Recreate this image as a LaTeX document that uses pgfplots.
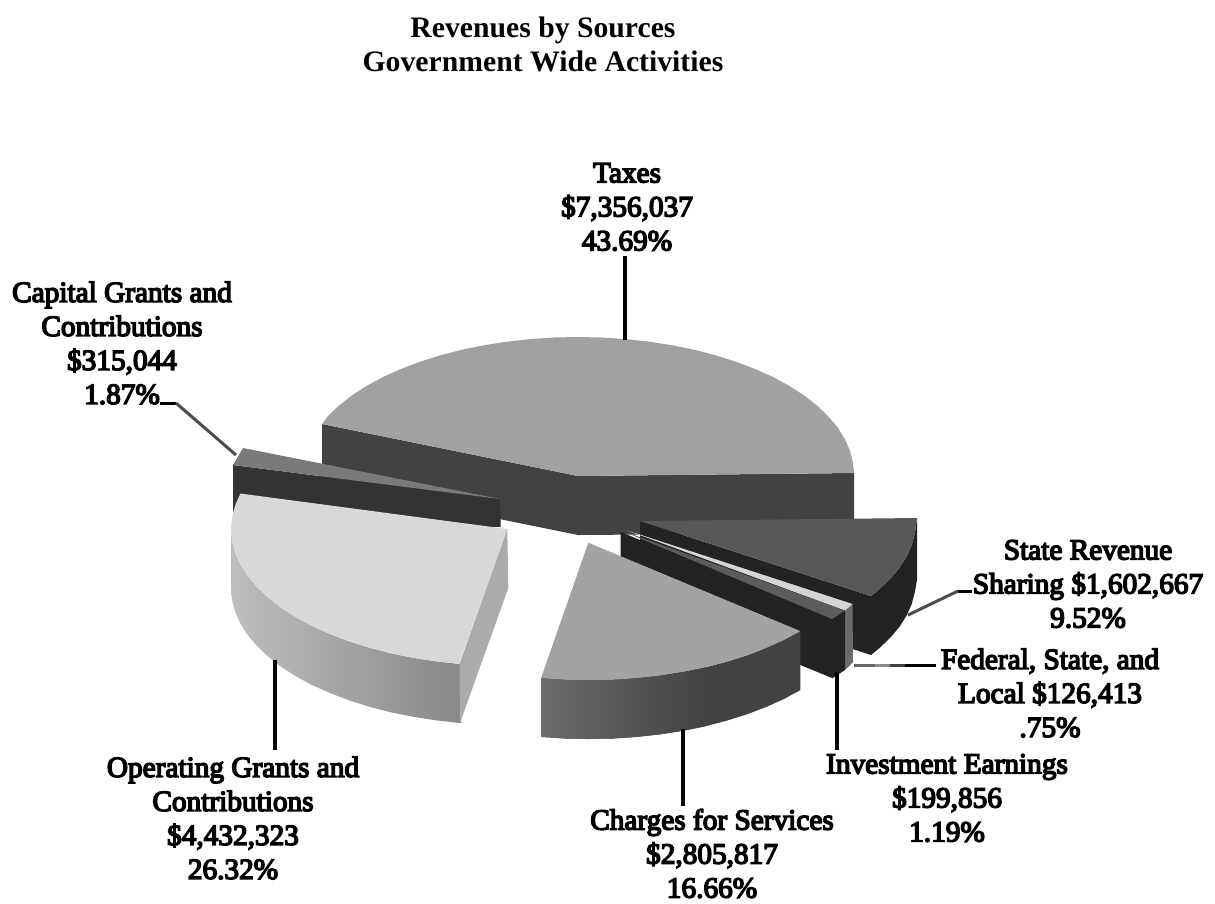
\documentclass[border=0pt]{standalone}
\usepackage{pgfplots}
\pgfplotsset{compat=1.18}
\usepackage{fontspec}
\setmainfont{Liberation Serif}
\newfontfamily\labelfont{Liberation Serif}[FakeBold=5]
\definecolor{taxTop}{HTML}{A1A1A1}
\definecolor{taxSide}{HTML}{424242}
\definecolor{capTop}{HTML}{7A7A7A}
\definecolor{capSide}{HTML}{333333}
\definecolor{opTop}{HTML}{D8D8D8}
\definecolor{opInner}{HTML}{ABABAB}
\definecolor{opOuterL}{HTML}{BEBEBE}
\definecolor{opOuterR}{HTML}{888888}
\definecolor{chgTop}{HTML}{A3A3A3}
\definecolor{chgOuterL}{HTML}{6C6C6C}
\definecolor{stTop}{HTML}{585858}
\definecolor{dark}{HTML}{232323}
\definecolor{invTop}{HTML}{5C5C5C}
\definecolor{fedTop}{HTML}{D4D4D4}
\definecolor{fedSide}{HTML}{6C6C6C}
\tikzset{lab/.style={font=\labelfont\fontsize{29.3}{34}\selectfont, align=center, text=black, inner sep=0pt}}
\begin{document}
\begin{tikzpicture}
\begin{axis}[
  width=1215pt, height=903pt, scale only axis,
  xmin=0, xmax=1215, ymin=0, ymax=903, y dir=reverse,
  axis lines=none, clip=false,
  every axis plot/.append style={mark=none},
]
% Full page extent of the drawing
\path (axis cs:0,0) rectangle (axis cs:1215,903);
% Taxes: rim, then top face
\addplot[fill=taxSide, draw=none] coordinates {(322,424) (578,476) (854,473) (854,533) (578,535) (322,483)} --cycle;
\addplot[fill=taxTop, draw=none] coordinates {
 (854,473) (852.9,462.1) (849.8,450.2) (844.6,438.5) (837.4,427.1) (828.1,416.1) (817,405.5) (804.1,395.4)
 (789.4,385.9) (773.2,377.1) (755.4,369.1) (736.3,361.8) (716,355.4) (694.6,349.8) (672.4,345.3) (649.4,341.7)
 (625.9,339.1) (602.1,337.5) (578,337) (553.9,337.5) (530.1,339.1) (506.6,341.7) (483.6,345.3) (461.4,349.8)
 (440,355.4) (419.7,361.8) (400.6,369.1) (382.8,377.1) (366.6,385.9) (351.9,395.4) (339,405.5) (327.9,416.1)
 (322,424) (578,476)} --cycle;
% State Revenue Sharing
\addplot[fill=dark, draw=none] coordinates {(640,521) (871,596) (871,655) (640,580)} --cycle;
\addplot[fill=dark, draw=none] coordinates {
 (917,518) (914.9,532.9) (911.8,544.8) (906.6,556.5) (899.4,567.9) (890.1,578.9) (879,589.5) (871,596)
 (871,655) (879,648.5) (890.1,637.9) (899.4,626.9) (906.6,615.5) (911.8,603.8) (914.9,591.9) (917,580)} --cycle;
\addplot[fill=stTop, draw=none] coordinates {
 (640,521) (917,518) (916.5,521) (914.9,532.9) (911.8,544.8) (906.6,556.5) (899.4,567.9) (890.1,578.9) (879,589.5) (871,596)} --cycle;
% Capital Grants and Contributions
\addplot[fill=capSide, draw=none] coordinates {(233,465) (500,499) (500.7,527) (233,524)} --cycle;
\addplot[fill=capTop, draw=none] coordinates {(243,448) (233,465) (500,499)} --cycle;
% Operating Grants and Contributions
\addplot[left color=opOuterL, right color=opOuterR, draw=none] coordinates {
 (231,529) (232.1,540.9) (235.2,552.8) (240.4,564.5) (247.6,575.9) (256.9,586.9) (268,597.5) (280.9,607.6)
 (295.6,617.1) (311.8,625.9) (329.6,633.9) (348.7,641.2) (369,647.6) (390.4,653.2) (412.6,657.7) (435.6,661.3)
 (459.1,663.9) (461,664) (461,723) (459.1,722.9) (435.6,720.3) (412.6,716.7) (390.4,712.2) (369,706.6) (348.7,700.2) (329.6,692.9)
 (311.8,684.9) (295.6,676.1) (280.9,666.6) (268,656.5) (256.9,645.9) (247.6,634.9) (240.4,623.5) (235.2,611.8)
 (232.1,599.9) (231,588)} --cycle;
\addplot[fill=opInner, draw=none] coordinates {(507.3,529) (459.5,664) (460,723) (508.3,588)} --cycle;
\addplot[fill=opTop, draw=none] coordinates {
 (507.3,529) (240.4,493.5) (235.2,505.2) (232.1,517.1) (231,529) (232.1,540.9) (235.2,552.8) (240.4,564.5)
 (247.6,575.9) (256.9,586.9) (268,597.5) (280.9,607.6) (295.6,617.1) (311.8,625.9) (329.6,633.9) (348.7,641.2)
 (369,647.6) (390.4,653.2) (412.6,657.7) (435.6,661.3) (459.1,663.9)} --cycle;
% Federal, State, and Local
\addplot[fill=fedSide, draw=none] coordinates {(845,610) (852.5,604) (853,662) (845,670)} --cycle;
\addplot[fill=fedTop, draw=none] coordinates {(626,530) (845,610.5) (852.5,604)} --cycle;
% Investment Earnings
\addplot[fill=dark, draw=none] coordinates {(620.7,532) (832,619) (832,678) (620.7,591)} --cycle;
\addplot[fill=dark, draw=none] coordinates {(832,619) (845,610.5) (845,670) (832,678.5)} --cycle;
\addplot[fill=invTop, draw=none] coordinates {(621.7,530.7) (832,619) (845,610.5)} --cycle;
% Charges for Services
\addplot[fill=taxSide, draw=none] coordinates {
 (800.4,631.1) (784.2,639.9) (766.4,647.9) (747.3,655.2) (727,661.6) (705.6,667.2) (683.4,671.7) (660.4,675.3)
 (636.9,677.9) (613.1,679.5) (589,680) (564.9,679.5) (541.1,677.9) (541.1,736.9) (564.9,738.5) (589,739)
 (613.1,738.5) (636.9,736.9) (660.4,734.3) (683.4,730.7) (705.6,726.2) (727,720.6) (747.3,714.2) (766.4,706.9)
 (784.2,698.9) (800.4,690.1)} --cycle;
\addplot[left color=chgOuterL, right color=taxSide, draw=none] coordinates {
 (705.6,667.2) (683.4,671.7) (660.4,675.3) (636.9,677.9) (613.1,679.5) (589,680) (564.9,679.5) (541.1,677.9)
 (541.1,736.9) (564.9,738.5) (589,739) (613.1,738.5) (636.9,736.9) (660.4,734.3) (683.4,730.7) (705.6,726.2)} --cycle;
\addplot[fill=chgTop, draw=none] coordinates {
 (588.3,542.7) (800.4,631.1) (784.2,639.9) (766.4,647.9) (747.3,655.2) (727,661.6) (705.6,667.2) (683.4,671.7)
 (660.4,675.3) (636.9,677.9) (613.1,679.5) (589,680) (564.9,679.5) (541.1,677.9)} --cycle;
% Leader lines
\addplot[black, line width=3.5pt] coordinates {(625,256) (625,340)};
\addplot[black, line width=3pt] coordinates {(160,403) (176,403)};
\addplot[black!70, line width=3pt] coordinates {(176,403) (236,455)};
\addplot[black!70, line width=3pt] coordinates {(908,615) (958,591)};
\addplot[black, line width=3pt] coordinates {(958,591) (972,591)};
\addplot[black!60, line width=3pt] coordinates {(854,665) (875,665)};
\addplot[black!45, line width=3pt] coordinates {(875,665) (890,665)};
\addplot[black!75, line width=3pt] coordinates {(890,665) (905,665)};
\addplot[black, line width=3pt] coordinates {(905,665) (936,665)};
\addplot[black, line width=3.5pt] coordinates {(837,672) (837,750)};
\addplot[black, line width=3.5pt] coordinates {(683,729) (683,806)};
\addplot[black, line width=3.5pt] coordinates {(275,660) (275,750)};
% Title and slice labels
\node[font=\bfseries\fontsize{29.7}{34}\selectfont, align=center, inner sep=0pt] at (axis cs:543,44)
  {Revenues by Sources\\Government Wide Activities};
\node[lab] at (axis cs:627,207) {Taxes\\\$7,356,037\\43.69\%};
\node[lab] at (axis cs:122,343) {Capital Grants and\\Contributions\\\$315,044\\1.87\%};
\node[lab] at (axis cs:233,818) {Operating Grants and\\Contributions\\\$4,432,323\\26.32\%};
\node[lab] at (axis cs:712,853.5) {Charges for Services\\\$2,805,817\\16.66\%};
\node[lab] at (axis cs:947,798) {Investment Earnings\\\$199,856\\1.19\%};
\node[lab] at (axis cs:1050,693) {Federal, State, and\\Local \$126,413\\.75\%};
\node[lab] at (axis cs:1088,584) {State Revenue\\Sharing \$1,602,667\\9.52\%};
\end{axis}
\end{tikzpicture}
\end{document}
